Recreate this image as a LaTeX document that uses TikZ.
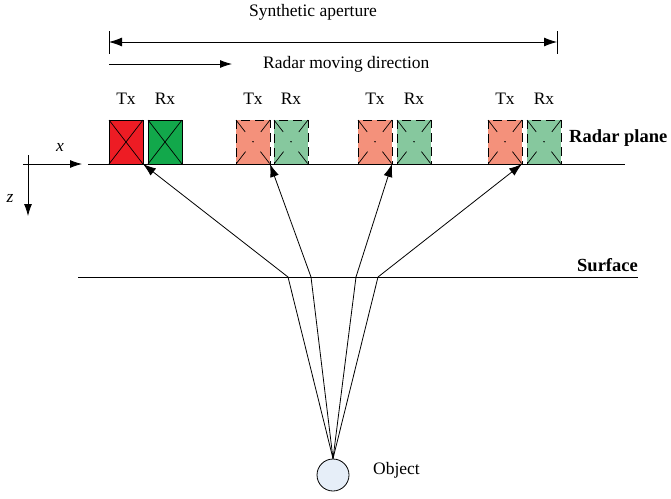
\documentclass[tikz,border=0pt]{standalone}
\usepackage{fontspec}
\setmainfont{Liberation Serif}
\usetikzlibrary{arrows.meta}
\definecolor{txred}{HTML}{ED1C24}
\definecolor{rxgreen}{HTML}{12A84B}
\definecolor{txlight}{HTML}{F4917B}
\definecolor{rxlight}{HTML}{86C89E}
\definecolor{objfill}{HTML}{E6EEF8}
\begin{document}
\begin{tikzpicture}[x=1pt,y=-1pt,
  font=\fontsize{17.5}{21}\selectfont,
  lbl/.style={inner sep=0pt},
  boldlbl/.style={inner sep=0pt,font=\fontsize{18.5}{22}\selectfont\bfseries},
  antbox/.style={minimum width=34pt,minimum height=44pt,inner sep=0pt,outer sep=0pt},
  solidbox/.style={antbox,draw,line width=0.8pt},
  ghostbox/.style={antbox,draw,line width=0.8pt,dash pattern=on 9pt off 5pt},
  soliddiag/.style={line width=0.7pt},
  ghostdiag/.style={line width=0.7pt,dash pattern=on 15pt off 12pt on 1pt off 12pt},
  tip/.style={-{Latex[length=12pt,width=8pt]}},
  ray/.style={line width=0.8pt,-{Latex[length=13pt,width=9pt]}},
  plain/.style={line width=0.8pt}]
\useasboundingbox (0,0) rectangle (671,498);

% top annotations
\node[lbl] (synlbl) at (313,12) {Synthetic aperture};
\coordinate (saL) at (109,42);
\coordinate (saR) at (557,42);
\coordinate (saLt) at (109,31);
\coordinate (saLb) at (109,54);
\coordinate (saRt) at (557,31);
\coordinate (saRb) at (557,54);
\draw[plain] (saLt) -- (saLb);
\draw[plain] (saRt) -- (saRb);
\draw[plain,{Latex[length=13pt,width=9pt]}-{Latex[length=13pt,width=9pt]}] (saL) -- (saR);
\coordinate (mvL) at (109,64);
\coordinate (mvR) at (232,64);
\draw[plain,tip] (mvL) -- (mvR);
\node[lbl,anchor=west] (mvlbl) at (263,64) {Radar moving direction};

% radar plane and surface
\coordinate (rpL) at (88,164);
\coordinate (rpR) at (625,164);
\draw[plain] (rpL) -- (rpR);
\node[boldlbl,anchor=west] (rplbl) at (569,138) {Radar plane};
\coordinate (sfL) at (78,277);
\coordinate (sfR) at (638,277);
\draw[plain] (sfL) -- (sfR);
\node[boldlbl,anchor=east] (sflbl) at (638,265) {Surface};

% axes
\coordinate (xa0) at (23,164);
\coordinate (xa1) at (82,164);
\draw[plain,tip] (xa0) -- (xa1);
\node[lbl] (xlbl) at (60,147) {\itshape x};
\coordinate (za0) at (28,155);
\coordinate (za1) at (28,216);
\draw[plain,tip] (za0) -- (za1);
\node[lbl] (zlbl) at (10,198) {\itshape z};

% antennas
\node[solidbox,fill=txred]   (tx1) at (126,142) {};
\node[solidbox,fill=rxgreen] (rx1) at (165,142) {};
\draw[soliddiag] (tx1.north west) -- (tx1.south east) (tx1.north east) -- (tx1.south west);
\draw[soliddiag] (rx1.north west) -- (rx1.south east) (rx1.north east) -- (rx1.south west);

\foreach \i/\xt/\xr in {2/253/291, 3/375/414, 4/505/544}{
  \node[ghostbox,fill=txlight] (tx\i) at (\xt,142) {};
  \node[ghostbox,fill=rxlight] (rx\i) at (\xr,142) {};
  \draw[ghostdiag] (tx\i.north west) -- (tx\i.south east);
  \draw[ghostdiag] (tx\i.north east) -- (tx\i.south west);
  \draw[ghostdiag] (rx\i.north west) -- (rx\i.south east);
  \draw[ghostdiag] (rx\i.north east) -- (rx\i.south west);
}
\foreach \i in {1,2,3,4}{
  \node[lbl,anchor=base] (txl\i) at ([yshift=38pt]tx\i.center) {Tx};
  \node[lbl,anchor=base] (rxl\i) at ([yshift=38pt]rx\i.center) {Rx};
}

% object and rays
\node[draw,circle,fill=objfill,minimum size=32pt,inner sep=0pt,line width=0.8pt] (obj) at (333,475) {};
\node[lbl,anchor=west] (objlbl) at (373,470) {Object};
\coordinate (s1) at (288,277);
\coordinate (s2) at (311,277);
\coordinate (s3) at (356,277);
\coordinate (s4) at (378,277);
\draw[plain] (obj.north) -- (s1);
\draw[plain] (obj.north) -- (s2);
\draw[plain] (obj.north) -- (s3);
\draw[plain] (obj.north) -- (s4);
\draw[ray] (s1) -- (tx1.south east);
\draw[ray] (s2) -- (tx2.south east);
\draw[ray] (s3) -- (tx3.south east);
\draw[ray] (s4) -- (tx4.south east);
\end{tikzpicture}
\end{document}
